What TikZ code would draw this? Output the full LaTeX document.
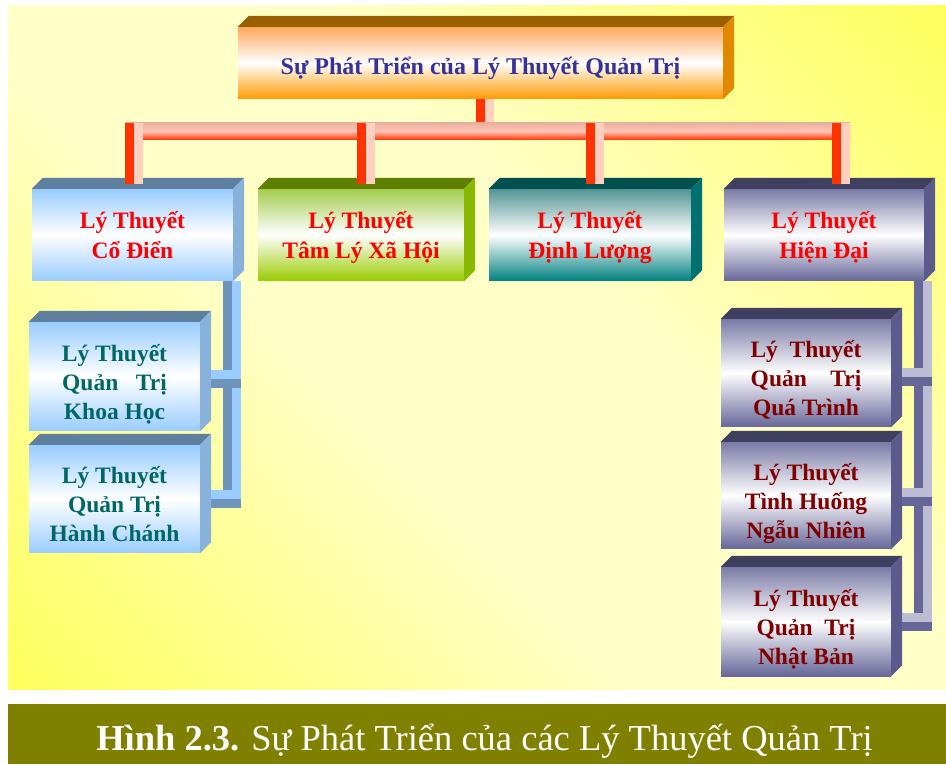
\documentclass[tikz,border=0pt]{standalone}
\usepackage{fontspec}
\setmainfont{Liberation Serif}
\usetikzlibrary{positioning}

\definecolor{panelyellow}{HTML}{FFFF5A}
\definecolor{panelpale}{HTML}{FFFFC8}
\definecolor{captionolive}{HTML}{808000}
\definecolor{titleblue}{HTML}{333399}
\definecolor{subteal}{HTML}{006666}
\definecolor{subred}{HTML}{800000}
\definecolor{orgtop}{HTML}{FFA860}
\definecolor{orgbot}{HTML}{FF9900}
\definecolor{orgface}{HTML}{996000}
\definecolor{orgside}{HTML}{E08800}
\definecolor{blutop}{HTML}{99CCFF}
\definecolor{bluface}{HTML}{5F7F9F}
\definecolor{bluside}{HTML}{88B2DC}
\definecolor{grntop}{HTML}{A4CC50}
\definecolor{grnbot}{HTML}{99CC00}
\definecolor{grnface}{HTML}{5F7F00}
\definecolor{grnside}{HTML}{88B800}
\definecolor{teltop}{HTML}{559494}
\definecolor{telbot}{HTML}{008080}
\definecolor{telface}{HTML}{005050}
\definecolor{telside}{HTML}{007070}
\definecolor{purtop}{HTML}{7A7AA6}
\definecolor{purbot}{HTML}{666699}
\definecolor{purface}{HTML}{3F3F5F}
\definecolor{purside}{HTML}{5A5A8C}
\definecolor{pipered}{HTML}{FF3300}
\definecolor{pipepink}{HTML}{FFD0C0}
\definecolor{bartop}{HTML}{E8B0A0}
\definecolor{barmid}{HTML}{FFC4B4}
\definecolor{bludark}{HTML}{6F94BC}
\definecolor{purlight}{HTML}{BCBCD4}

\pgfdeclarehorizontalshading{panelshade}{100bp}{color(0bp)=(panelyellow); color(14bp)=(panelyellow); color(42bp)=(panelpale); color(58bp)=(panelpale); color(86bp)=(panelyellow); color(100bp)=(panelyellow)}

% top and side faces of a box node
\newcommand\cubefaces[3]{%
  \fill[#2] (#1.north west) -- ++(11,11) -- ([shift={(11,11)}]#1.north east) -- (#1.north east) -- cycle;
  \fill[#3] (#1.north east) -- ++(11,11) -- ([shift={(11,11)}]#1.south east) -- (#1.south east) -- cycle;}
% two-tone pipes
\newcommand\vpipe[4]{%
  \draw[line width=9pt,#3] ([xshift=-4.5pt]#1) -- ([xshift=-4.5pt]#2);
  \draw[line width=9pt,#4] ([xshift=4.5pt]#1) -- ([xshift=4.5pt]#2);}
\newcommand\hpipe[4]{%
  \draw[line width=9pt,#3] ([yshift=4.5pt]#1) -- ([yshift=4.5pt]#2);
  \draw[line width=9pt,#4] ([yshift=-4.5pt]#1) -- ([yshift=-4.5pt]#2);}

\tikzset{
  cube/.style={
    rectangle,
    inner sep=0pt,
    align=center,
    font=\fontsize{23.5}{30}\selectfont\bfseries
    },
  topcube/.style={cube, top color=orgtop, bottom color=orgbot, middle color=white,
    text=titleblue, minimum width=485pt, minimum height=72pt,
    text height=24pt, text depth=0pt,
    font=\fontsize{24}{30}\selectfont\bfseries},
  bluecube/.style={cube, top color=blutop, bottom color=blutop, middle color=white},
  greencube/.style={cube, top color=grntop, bottom color=grnbot, middle color=white},
  tealcube/.style={cube, top color=teltop, bottom color=telbot, middle color=white},
  purplecube/.style={cube, top color=purtop, bottom color=purbot, middle color=white},
  mainbox/.style={minimum height=92pt, text=red, text height=47pt, text depth=0pt},
  subbox/.style={font=\fontsize{23.5}{29}\selectfont\bfseries, text height=86pt, text depth=0pt}
}

\begin{document}
\begin{tikzpicture}[x=1pt,y=1pt,>=latex]
\useasboundingbox (0,0) rectangle (946,764);
\fill[white] (0,0) rectangle (946,764);
\shade[shading=panelshade, shading angle=45] (8,75) rectangle (946,758);
\fill[captionolive] (8,0) rectangle (946,60);
\node[anchor=base, text=white, font=\fontsize{36.5}{40}\selectfont] (caption) at (484.5,14)
  {\textbf{Hình 2.3.} Sự Phát Triển của các Lý Thuyết Quản Trị};

\node[topcube] (root) at (480.5,701) {Sự Phát Triển của Lý Thuyết Quản Trị};

\node[bluecube, mainbox, minimum width=201pt] (box-classic) at (132.5,529) {Lý Thuyết\\Cổ Điển};
\node[greencube, mainbox, minimum width=206pt] (box-social) at (361,529) {Lý Thuyết\\Tâm Lý Xã Hội};
\node[tealcube, mainbox, minimum width=202pt] (box-quant) at (590,529) {Lý Thuyết\\Định Lượng};
\node[purplecube, mainbox, minimum width=200pt] (box-modern) at (824,529) {Lý Thuyết\\Hiện Đại};

\node[bluecube, subbox, text=subteal, minimum width=171pt, minimum height=109pt] (box-sci) at (114.5,387.5)
  {Lý Thuyết\\Quản~~~Trị\\Khoa Học};
\node[bluecube, subbox, text=subteal, minimum width=171pt, minimum height=108pt] (box-admin) at (114.5,265)
  {Lý Thuyết\\Quản Trị\\Hành Chánh};
\node[purplecube, subbox, text=subred, minimum width=170pt, minimum height=108pt] (box-process) at (806,391)
  {Lý~~Thuyết\\Quản~~~~Trị\\Quá Trình};
\node[purplecube, subbox, text=subred, minimum width=170pt, minimum height=107pt] (box-conting) at (806,268.5)
  {Lý Thuyết\\Tình Huống\\Ngẫu Nhiên};
\node[purplecube, subbox, text=subred, minimum width=170pt, minimum height=109pt] (box-japan) at (806,142.5)
  {Lý Thuyết\\Quản~~Trị\\Nhật Bản};

\cubefaces{root}{orgface}{orgside}
\cubefaces{box-classic}{bluface}{bluside}
\cubefaces{box-social}{grnface}{grnside}
\cubefaces{box-quant}{telface}{telside}
\cubefaces{box-modern}{purface}{purside}
\cubefaces{box-sci}{bluface}{bluside}
\cubefaces{box-admin}{bluface}{bluside}
\cubefaces{box-process}{purface}{purside}
\cubefaces{box-conting}{purface}{purside}
\cubefaces{box-japan}{purface}{purside}

% top level
\coordinate (drop1) at ([xshift=1.5pt,yshift=5pt]box-classic.north);
\coordinate (drop2) at ([xshift=5pt,yshift=5pt]box-social.north);
\coordinate (drop3) at ([xshift=5pt,yshift=5pt]box-quant.north);
\coordinate (drop4) at ([xshift=17pt,yshift=5pt]box-modern.north);
\path (drop1) ++(-9,52.5) coordinate (bar-west);
\path (drop4) ++(9,52.5) coordinate (bar-east);
\coordinate (stem-top) at ([xshift=4.5pt]root.south);
\coordinate (stem-bot) at (stem-top |- bar-west);
\vpipe{stem-top}{stem-bot}{pipered}{pipepink}
\shade[top color=bartop, bottom color=pipered, middle color=barmid]
  ([yshift=-8.5pt]bar-west) rectangle ([yshift=8.5pt]bar-east);
\foreach \i in {1,...,4}{
  \path (drop\i |- bar-west) ++(0,8.5) coordinate (rise\i);
  \vpipe{rise\i}{drop\i}{pipered}{pipepink}
}

% left branch
\coordinate (lpipe-top) at ([xshift=-1pt]box-classic.south east);
\path (lpipe-top |- box-admin.east) ++(0,-9) coordinate (lpipe-bot);
\vpipe{lpipe-top}{lpipe-bot}{bludark}{blutop}
\coordinate (sci-stub) at ([xshift=11pt,yshift=-2.5pt]box-sci.east);
\path (lpipe-top |- sci-stub) ++(9,0) coordinate (sci-stub-end);
\hpipe{sci-stub}{sci-stub-end}{blutop}{bludark}
\coordinate (admin-stub) at ([xshift=11pt]box-admin.east);
\path (lpipe-top |- admin-stub) ++(9,0) coordinate (admin-stub-end);
\hpipe{admin-stub}{admin-stub-end}{blutop}{bludark}

% right branch
\coordinate (rpipe-top) at ([xshift=-1.5pt]box-modern.south east);
\path (rpipe-top |- box-japan.east) ++(0,-9.5) coordinate (rpipe-bot);
\vpipe{rpipe-top}{rpipe-bot}{purbot}{purlight}
\coordinate (process-stub) at ([xshift=11pt,yshift=-4pt]box-process.east);
\path (rpipe-top |- process-stub) ++(9.5,0) coordinate (process-stub-end);
\hpipe{process-stub}{process-stub-end}{purlight}{purbot}
\coordinate (conting-stub) at ([xshift=11pt,yshift=-2pt]box-conting.east);
\path (rpipe-top |- conting-stub) ++(9.5,0) coordinate (conting-stub-end);
\hpipe{conting-stub}{conting-stub-end}{purlight}{purbot}
\coordinate (japan-stub) at ([xshift=11pt,yshift=-0.5pt]box-japan.east);
\path (rpipe-top |- japan-stub) ++(9.5,0) coordinate (japan-stub-end);
\hpipe{japan-stub}{japan-stub-end}{purlight}{purbot}

\end{tikzpicture}
\end{document}
